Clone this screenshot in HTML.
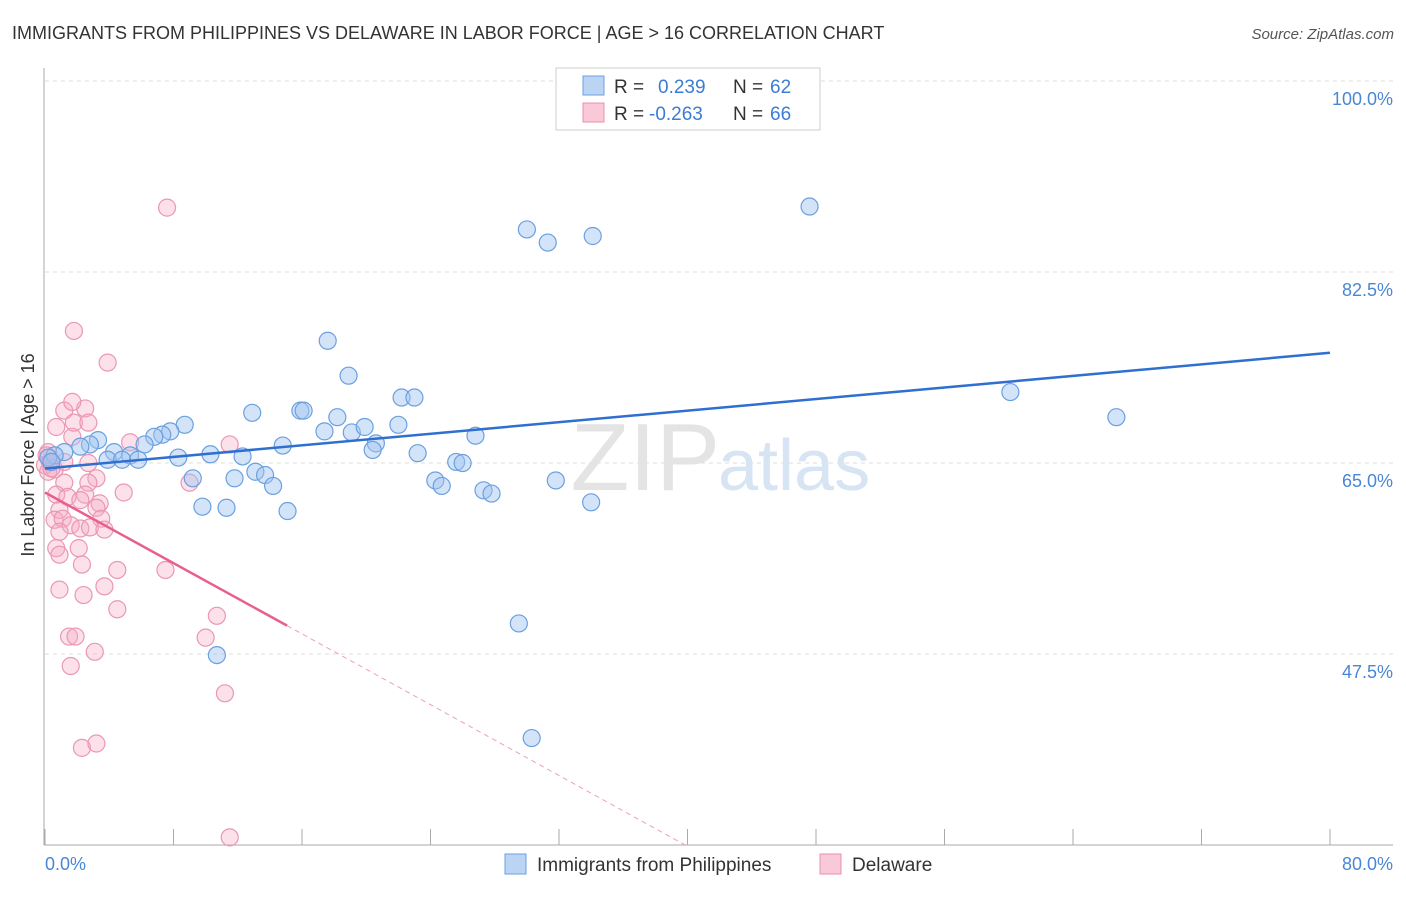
<!DOCTYPE html>
<html><head><meta charset="utf-8"><style>
body{margin:0;background:#fff;font-family:"Liberation Sans",sans-serif;}
svg text{font-family:"Liberation Sans",sans-serif;}
</style></head><body>
<svg id="chart" width="1406" height="892" viewBox="0 0 1406 892" xmlns="http://www.w3.org/2000/svg">
<text x="12" y="39" font-size="18" fill="#333">IMMIGRANTS FROM PHILIPPINES VS DELAWARE IN LABOR FORCE | AGE &gt; 16 CORRELATION CHART</text>
<text x="1394" y="39" font-size="15" fill="#555" font-style="italic" text-anchor="end">Source: ZipAtlas.com</text>
<g id="grid"></g>
<text x="720" y="490" font-size="96" fill="#e4e4e4" text-anchor="end" font-family="Liberation Serif">ZIP</text>
<text x="718" y="490" font-size="72" fill="#d6e4f4">atlas</text>
<g id="pts"></g>
<g id="lines"></g>
<text transform="translate(34,455) rotate(-90)" font-size="18" fill="#333" text-anchor="middle">In Labor Force | Age &gt; 16</text>
<text x="45" y="870" font-size="18" fill="#4a86d6">0.0%</text>
<text x="1393" y="870" font-size="18" fill="#4a86d6" text-anchor="end">80.0%</text>
<g>
<rect x="556" y="68" width="264" height="62" fill="#fff" stroke="#ccc"/>
<rect x="583" y="76" width="21" height="19" fill="#bcd4f4" stroke="#6aa0e0"/>
<rect x="583" y="103" width="21" height="19" fill="#f9c9d8" stroke="#e890ad"/>
<text x="614" y="93" font-size="19" fill="#333">R = </text><text x="658" y="93" font-size="19" fill="#3c7bd6">0.239</text>
<text x="733" y="93" font-size="19" fill="#333">N = </text><text x="770" y="93" font-size="19" fill="#3c7bd6">62</text>
<text x="614" y="120" font-size="19" fill="#333">R = </text><text x="649" y="120" font-size="19" fill="#3c7bd6">-0.263</text>
<text x="733" y="120" font-size="19" fill="#333">N = </text><text x="770" y="120" font-size="19" fill="#3c7bd6">66</text>
</g>
<g>
<rect x="505" y="854" width="21" height="20" fill="#bcd4f4" stroke="#6aa0e0"/>
<text x="537" y="871" font-size="19" fill="#333">Immigrants from Philippines</text>
<rect x="820" y="854" width="21" height="20" fill="#f9c9d8" stroke="#e890ad"/>
<text x="852" y="871" font-size="19" fill="#333">Delaware</text>
</g>
</svg>
<script>
const yTicks=[47.5,65,82.5,100];
const yTickLabels=["47.5%","65.0%","82.5%","100.0%"];
const xTicks=[0,8,16,24,32,40,48,56,64,72,80];
const blueX=[47.6,30.0,31.3,34.1,17.6,18.9,60.1,66.7,22.2,23.0,12.9,15.9,16.1,18.2,8.7,7.8,7.3,6.8,6.2,17.4,19.1,19.9,22.0,26.8,20.6,20.4,3.3,2.8,2.2,1.2,0.6,4.3,5.3,3.9,4.8,5.8,8.3,10.3,12.3,14.8,23.2,25.6,26.0,9.2,11.8,13.1,13.7,14.2,24.3,24.7,27.3,27.8,31.8,34.0,9.8,11.3,15.1,29.5,10.7,30.3,0.2,0.4];
const blueY=[88.5,86.4,85.2,85.8,76.2,73.0,71.5,69.2,71.0,71.0,69.6,69.8,69.8,69.2,68.5,67.9,67.6,67.4,66.7,67.9,67.8,68.3,68.5,67.5,66.8,66.2,67.1,66.7,66.5,66.0,65.7,66.0,65.7,65.3,65.3,65.3,65.5,65.8,65.6,66.6,65.9,65.1,65.0,63.6,63.6,64.2,63.9,62.9,63.4,62.9,62.5,62.2,63.4,61.4,61.0,60.9,60.6,50.3,47.4,39.8,65.5,65.1];
const pinkX=[7.6,1.8,3.9,1.2,2.5,1.7,0.7,1.7,1.8,2.7,11.5,5.3,0.2,0,0.6,2.7,9.0,1.2,3.2,2.7,4.9,0.7,1.4,2.5,2.2,3.4,0.9,0.6,1.1,3.2,3.5,1.6,2.2,2.8,3.7,0.9,0.7,2.1,0.9,2.3,4.5,7.5,3.7,0.9,2.4,4.5,10.7,1.5,1.9,10.0,3.1,1.6,11.2,2.3,3.2,11.5,0.1,0.3,0.2,0.4,1.2];
const pinkY=[88.4,77.1,74.2,69.8,70.0,70.6,68.3,67.4,68.7,68.7,66.7,66.9,66.0,64.8,64.4,65.0,63.2,63.2,63.6,63.2,62.3,62.1,61.9,62.1,61.6,61.3,60.7,59.8,59.9,60.9,59.9,59.3,59.0,59.1,58.9,58.7,57.2,57.2,56.6,55.7,55.2,55.2,53.7,53.4,52.9,51.6,51.0,49.1,49.1,49.0,47.7,46.4,43.9,38.9,39.3,30.7,65.7,65.1,64.2,64.5,65.1];
const blueTrend=[[0,64.5],[80,75.1]];
const pinkTrendSolid=[[0,62.3],[15.07,50.1]];
const pinkTrendDash=[[15.07,50.1],[39.85,30.0]];
const X=v=>45+v*(1285/80);
const Y=v=>845-(v-30)*10.914;
const NS="http://www.w3.org/2000/svg";
function mk(tag,attrs,parent){const e=document.createElementNS(NS,tag);for(const k in attrs)e.setAttribute(k,attrs[k]);parent.appendChild(e);return e;}
const grid=document.getElementById('grid');
yTicks.forEach((t,i)=>{
 const l=mk('line',{x1:45,x2:1393,y1:Y(t),y2:Y(t),stroke:'#ddd','stroke-dasharray':'4,4'},grid);
 
 
 const tx=mk('text',{x:1393,y:Y(t)+24,'font-size':18,fill:'#4a86d6','text-anchor':'end'},grid);
 tx.textContent=yTickLabels[i];
 
 
});
const ax=mk('line',{x1:44,x2:44,y1:68,y2:845,stroke:'#aaa'},grid);


const bx=mk('line',{x1:44,x2:1393,y1:845,y2:845,stroke:'#aaa'},grid);


xTicks.forEach(t=>{
 const l=mk('line',{x1:X(t),x2:X(t),y1:829,y2:845,stroke:'#aaa'},grid);
 
 
});
const pts=document.getElementById('pts');
pinkX.forEach((x,i)=>{
 const c=mk('circle',{cx:X(x),cy:Y(pinkY[i]),r:8.5,fill:'rgba(245,170,195,0.35)',stroke:'#eb97b2','stroke-width':1.2},pts);
 
 
});
blueX.forEach((x,i)=>{
 const c=mk('circle',{cx:X(x),cy:Y(blueY[i]),r:8.5,fill:'rgba(160,196,240,0.45)',stroke:'#6aa0e0','stroke-width':1.2},pts);
 
 
});
const lines=document.getElementById('lines');
const b=mk('line',{x1:X(blueTrend[0][0]),y1:Y(blueTrend[0][1]),x2:X(blueTrend[1][0]),y2:Y(blueTrend[1][1]),stroke:'#2f6fd0','stroke-width':2.5},lines);


const p=mk('line',{x1:X(pinkTrendSolid[0][0]),y1:Y(pinkTrendSolid[0][1]),x2:X(pinkTrendSolid[1][0]),y2:Y(pinkTrendSolid[1][1]),stroke:'#e8608a','stroke-width':2.5},lines);


const pd=mk('line',{x1:X(pinkTrendDash[0][0]),y1:Y(pinkTrendDash[0][1]),x2:X(pinkTrendDash[1][0]),y2:Y(pinkTrendDash[1][1]),stroke:'#eca0b8','stroke-width':1,'stroke-dasharray':'5,4'},lines);


</script>
</body></html>
